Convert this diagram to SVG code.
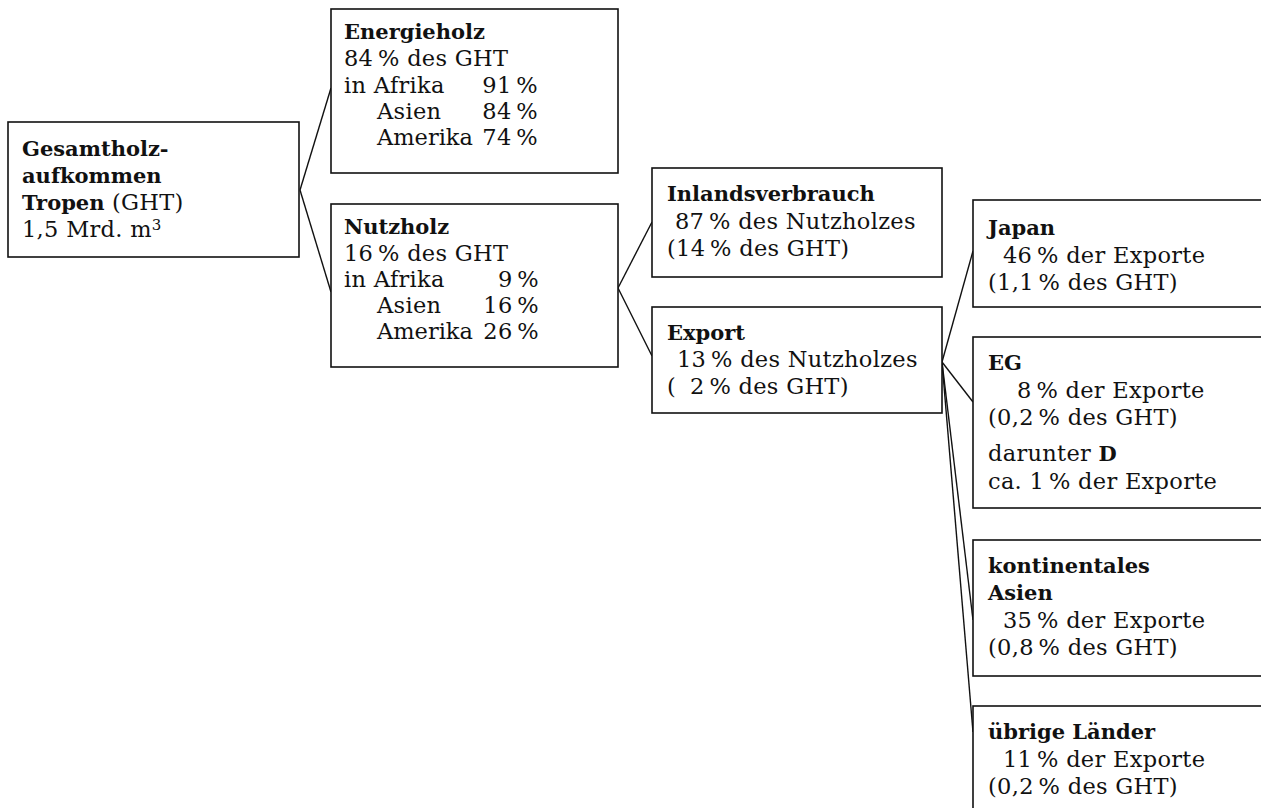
<svg xmlns="http://www.w3.org/2000/svg" width="1261" height="808" viewBox="0 0 1261 808">
<style>
.bg{fill:#fff}
.box{fill:#fff;stroke:#111;stroke-width:1.6}
.t{font-family:"DejaVu Serif","Liberation Serif",serif;font-size:22.5px;letter-spacing:0.3px;fill:#111}
.b{font-weight:bold;font-size:21px;letter-spacing:0}
.n{letter-spacing:0}
.sup{font-size:15px}
.conn line{stroke:#111;stroke-width:1.4}
</style>
<rect class="bg" x="0" y="0" width="1261" height="808"/>
<g id="connectors" class="conn">
<line x1="300" y1="190" x2="331" y2="88"/>
<line x1="300" y1="190" x2="331" y2="292"/>
<line x1="618" y1="288" x2="652" y2="222"/>
<line x1="618" y1="288" x2="652" y2="356"/>
<line x1="942" y1="362" x2="973" y2="251"/>
<line x1="942" y1="362" x2="973" y2="402"/>
<line x1="942" y1="362" x2="973" y2="620"/>
<line x1="942" y1="362" x2="973" y2="732"/>
</g>
<g id="gesamt">
<rect class="box" x="8" y="122" width="291" height="135"/>
<text class="t b" x="22" y="156">Gesamtholz-</text>
<text class="t b" x="22" y="183">aufkommen</text>
<text class="t" x="22" y="210"><tspan class="b">Tropen</tspan> (GHT)</text>
<text class="t" x="22" y="237">1,5 Mrd. m<tspan class="sup" dy="-7">3</tspan></text>
</g>
<g id="energieholz">
<rect class="box" x="331" y="9" width="287" height="164"/>
<text class="t b" x="344" y="39">Energieholz</text>
<text class="t" x="344" y="66">84&#8201;% des GHT</text>
<text class="t" x="344" y="93">in Afrika</text>
<text class="t" x="538" y="93" text-anchor="end">91&#8201;%</text>
<text class="t" x="377" y="119">Asien</text>
<text class="t" x="538" y="119" text-anchor="end">84&#8201;%</text>
<text class="t n" x="377" y="145">Amerika</text>
<text class="t" x="538" y="145" text-anchor="end">74&#8201;%</text>
</g>
<g id="nutzholz">
<rect class="box" x="331" y="204" width="287" height="163"/>
<text class="t b" x="344" y="234">Nutzholz</text>
<text class="t" x="344" y="261">16&#8201;% des GHT</text>
<text class="t" x="344" y="287">in Afrika</text>
<text class="t" x="539" y="287" text-anchor="end">9&#8201;%</text>
<text class="t" x="377" y="313">Asien</text>
<text class="t" x="539" y="313" text-anchor="end">16&#8201;%</text>
<text class="t n" x="377" y="339">Amerika</text>
<text class="t" x="539" y="339" text-anchor="end">26&#8201;%</text>
</g>
<g id="inland">
<rect class="box" x="652" y="168" width="290" height="109"/>
<text class="t b" x="667" y="201">Inlandsverbrauch</text>
<text class="t" x="675" y="229">87&#8201;% des Nutzholzes</text>
<text class="t" x="667" y="256">(14&#8201;% des GHT)</text>
</g>
<g id="export">
<rect class="box" x="652" y="307" width="290" height="106"/>
<text class="t b" x="667" y="340">Export</text>
<text class="t" x="677" y="367">13&#8201;% des Nutzholzes</text>
<text class="t" x="667" y="394">(<tspan x="690">2&#8201;% des GHT)</tspan></text>
</g>
<g id="japan">
<rect class="box" x="973" y="200" width="300" height="107"/>
<text class="t b" x="988" y="235">Japan</text>
<text class="t" x="1003" y="263">46&#8201;% der Exporte</text>
<text class="t" x="988" y="290">(1,1&#8201;% des GHT)</text>
</g>
<g id="eg">
<rect class="box" x="973" y="337" width="300" height="171"/>
<text class="t b" x="988" y="370">EG</text>
<text class="t" x="1017" y="398">8&#8201;% der Exporte</text>
<text class="t" x="988" y="425">(0,2&#8201;% des GHT)</text>
<text class="t" x="988" y="461">darunter <tspan class="b">D</tspan></text>
<text class="t" x="988" y="489">ca. 1&#8201;% der Exporte</text>
</g>
<g id="asien">
<rect class="box" x="973" y="540" width="300" height="136"/>
<text class="t b" x="988" y="573">kontinentales</text>
<text class="t b" x="988" y="600">Asien</text>
<text class="t" x="1003" y="628">35&#8201;% der Exporte</text>
<text class="t" x="988" y="655">(0,8&#8201;% des GHT)</text>
</g>
<g id="uebrige">
<rect class="box" x="973" y="706" width="300" height="120"/>
<text class="t b" x="988" y="739">übrige Länder</text>
<text class="t" x="1003" y="767">11&#8201;% der Exporte</text>
<text class="t" x="988" y="794">(0,2&#8201;% des GHT)</text>
</g>
</svg>
